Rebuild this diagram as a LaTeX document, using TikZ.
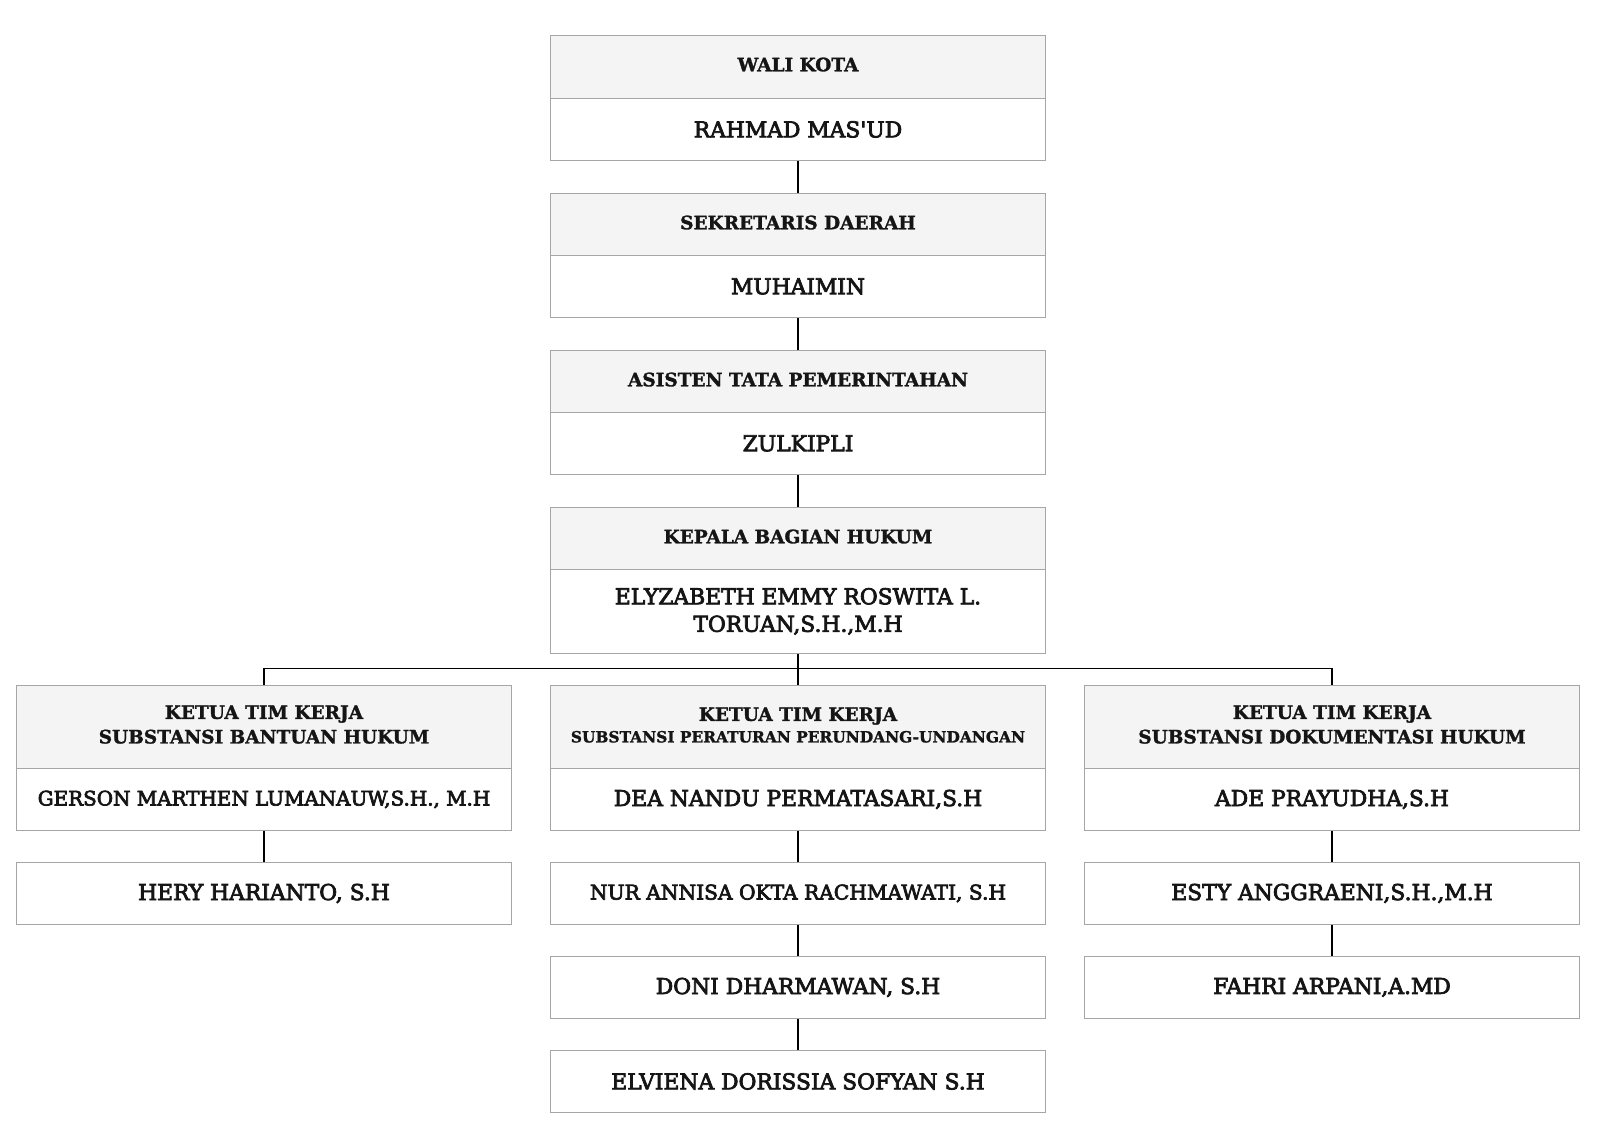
\documentclass[tikz,border=0pt]{standalone}
\usepackage{fontspec}
\setmainfont{DejaVu Serif}
\newfontfamily\bodyface[FakeBold=3.5]{DejaVu Serif}
\newfontfamily\hdrface[FakeBold=1.5]{DejaVu Serif Bold}
\definecolor{bordergray}{HTML}{A6A6A6}
\definecolor{hdrfill}{HTML}{F4F4F4}
\definecolor{txt}{HTML}{151515}
\newcommand{\hfont}{\hdrface\fontsize{18.5}{24.5}\selectfont}
\newcommand{\bfontx}{\bodyface\fontsize{21.8}{27.5}\selectfont}
\newcommand{\sfontx}{\hdrface\fontsize{15.4}{20}\selectfont}
\begin{document}
\begin{tikzpicture}[x=1pt,y=-1pt,
  hdr/.style={draw=bordergray, line width=0.8pt, fill=hdrfill, minimum width=495pt, minimum height=63pt, anchor=north, inner sep=0pt, align=center, text=txt, font=\hfont, text depth=5pt},
  bdy/.style={draw=bordergray, line width=0.8pt, fill=white, minimum width=495pt, minimum height=62pt, anchor=north, inner sep=0pt, align=center, text=txt, font=\bfontx},
  conn/.style={draw=black, line width=1.2pt}]
\useasboundingbox (0,0) rectangle (1600,1140);
% column x centers: 264, 798, 1332
\node[hdr] (h1) at (798,35) {WALI KOTA};
\node[bdy] (b1) at (798,98) {RAHMAD MAS'UD};
\node[hdr] (h2) at (798,193) {SEKRETARIS DAERAH};
\node[bdy] (b2) at (798,255) {MUHAIMIN};
\node[hdr] (h3) at (798,350) {ASISTEN TATA PEMERINTAHAN};
\node[bdy] (b3) at (798,412) {ZULKIPLI};
\node[hdr] (h4) at (798,507) {KEPALA BAGIAN HUKUM};
\node[bdy, minimum height=84pt] (b4) at (798,569) {ELYZABETH EMMY ROSWITA L.\\TORUAN,S.H.,M.H};
% teams
\node[hdr, minimum height=83pt] (tl) at (264,685) {KETUA TIM KERJA\\SUBSTANSI BANTUAN HUKUM};
\node[bdy, font=\bodyface\fontsize{19.9}{26}\selectfont] (tlb) at (264,768) {GERSON MARTHEN LUMANAUW,S.H., M.H};
\node[hdr, minimum height=83pt, text depth=4pt] (tc) at (798,685) {KETUA TIM KERJA\\[-3pt]{\sfontx SUBSTANSI PERATURAN PERUNDANG-UNDANGAN}};
\node[bdy] (tcb) at (798,768) {DEA NANDU PERMATASARI,S.H};
\node[hdr, minimum height=83pt] (tr) at (1332,685) {KETUA TIM KERJA\\SUBSTANSI DOKUMENTASI HUKUM};
\node[bdy] (trb) at (1332,768) {ADE PRAYUDHA,S.H};
% members
\node[bdy] (l1) at (264,862) {HERY HARIANTO, S.H};
\node[bdy, font=\bodyface\fontsize{20.2}{26}\selectfont] (c1) at (798,862) {NUR ANNISA OKTA RACHMAWATI, S.H};
\node[bdy] (c2) at (798,956) {DONI DHARMAWAN, S.H};
\node[bdy] (c3) at (798,1050) {ELVIENA DORISSIA SOFYAN S.H};
\node[bdy] (r1) at (1332,862) {ESTY ANGGRAENI,S.H.,M.H};
\node[bdy] (r2) at (1332,956) {FAHRI ARPANI,A.MD};
% connectors
\coordinate (bus) at (798,668.5);
\draw[conn] (b1.south) -- (h2.north);
\draw[conn] (b2.south) -- (h3.north);
\draw[conn] (b3.south) -- (h4.north);
\draw[conn] (b4.south) -- (tc.north);
\draw[conn] (tl.north) |- (bus) -| (tr.north);
\draw[conn] (tlb.south) -- (l1.north);
\draw[conn] (tcb.south) -- (c1.north);
\draw[conn] (c1.south) -- (c2.north);
\draw[conn] (c2.south) -- (c3.north);
\draw[conn] (trb.south) -- (r1.north);
\draw[conn] (r1.south) -- (r2.north);
\end{tikzpicture}
\end{document}
